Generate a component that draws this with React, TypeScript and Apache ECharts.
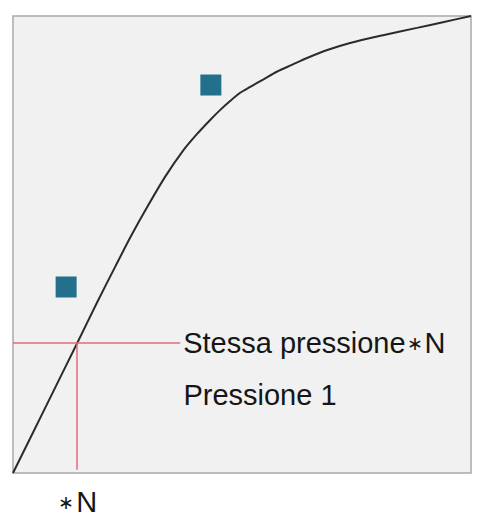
import { useEffect, useRef } from "react";
import * as echarts from "echarts";

// curve, in 0..100 units on both axes
const curveX = [0, 7.0, 14.0, 18.3, 22.3, 25.8, 29.3, 33.2, 37.1, 40.2, 43.0, 45.2, 47.4, 49.6, 51.8, 54.8, 57.6, 60.9, 64.2, 68.8, 73.6, 80.8, 88.2, 94.1, 100];
const curveY = [0, 14.2, 28.4, 37.2, 45.1, 51.9, 58.2, 64.8, 70.5, 74.2, 77.2, 79.4, 81.4, 83.2, 84.5, 86.2, 87.8, 89.3, 90.8, 92.6, 94.1, 95.8, 97.4, 98.7, 100];

// the two square markers
const pointX = [11.6, 43.2];
const pointY = [40.7, 84.9];

// guide at "same pressure * N"
const guideX = 14.0;
const guideY = 28.4;
const guideEndX = 36.5;
const guideBottomY = 0.7;

const labelSame = "Stessa pressione{s|\u2217}N";
const labelOne = "Pressione 1";
const labelN = "{s|\u2217}N";
const labelOneX = 37.1;
const labelOneY = 17.1;

const FONT = "'Liberation Sans', Arial, sans-serif";
const TEXT = "#161616";
const RED = "#e36b79";

const starRich = {
  s: { fontSize: 19, fontFamily: FONT, color: TEXT, padding: [0, 2, 0, 1] },
};

export default function App() {
  const chartRef = useRef<HTMLDivElement>(null);

  useEffect(() => {
    document.body.style.margin = "0";
    if (!chartRef.current) return;
    const chart = echarts.init(chartRef.current, undefined, { renderer: "svg" });

    const option: echarts.EChartsOption = {
      animation: false,
      backgroundColor: "#ffffff",
      grid: {
        left: 13,
        top: 16,
        width: 458,
        height: 457,
        show: true,
        backgroundColor: "#f1f1f1",
        borderColor: "#a9a9a9",
        borderWidth: 1.5,
      },
      xAxis: {
        type: "value",
        min: 0,
        max: 100,
        axisLine: { show: false },
        axisTick: { show: false },
        axisLabel: { show: false },
        splitLine: { show: false },
      },
      yAxis: {
        type: "value",
        min: 0,
        max: 100,
        axisLine: { show: false },
        axisTick: { show: false },
        axisLabel: { show: false },
        splitLine: { show: false },
      },
      series: [
        {
          type: "line",
          data: curveX.map((x, i) => [x, curveY[i]]),
          smooth: 0.3,
          symbol: "none",
          lineStyle: { color: "#2b2b2b", width: 2 },
          z: 3,
          markLine: {
            silent: true,
            symbol: ["none", "none"],
            lineStyle: { color: RED, width: 1.5, type: "solid", opacity: 1 },
            emphasis: { disabled: true },
            label: { show: false },
            data: [
              [
                { coord: [0, guideY] },
                {
                  coord: [guideEndX, guideY],
                  label: {
                    show: true,
                    position: "end",
                    distance: 3,
                    formatter: labelSame,
                    color: TEXT,
                    fontSize: 29,
                    fontFamily: FONT,
                    rich: starRich,
                  },
                },
              ],
              [
                { coord: [guideX, guideY] },
                {
                  coord: [guideX, guideBottomY],
                  label: {
                    show: true,
                    position: "end",
                    distance: 18,
                    formatter: labelN,
                    color: TEXT,
                    fontSize: 29,
                    fontFamily: FONT,
                    rich: starRich,
                  },
                },
              ],
            ],
          },
          markPoint: {
            silent: true,
            symbol: "rect",
            symbolSize: 1,
            itemStyle: { color: "transparent" },
            data: [
              {
                coord: [labelOneX, labelOneY],
                label: {
                  show: true,
                  position: "right",
                  distance: 0,
                  formatter: labelOne,
                  color: TEXT,
                  fontSize: 29,
                  fontFamily: FONT,
                },
              },
            ],
          },
        },
        {
          type: "scatter",
          data: pointX.map((x, i) => [x, pointY[i]]),
          symbol: "rect",
          symbolSize: 21,
          itemStyle: { color: "#23708c", opacity: 1 },
          z: 4,
        },
      ],
    };

    chart.setOption(option);
    return () => chart.dispose();
  }, []);

  return <div ref={chartRef} style={{ width: 478, height: 518 }} />;
}
